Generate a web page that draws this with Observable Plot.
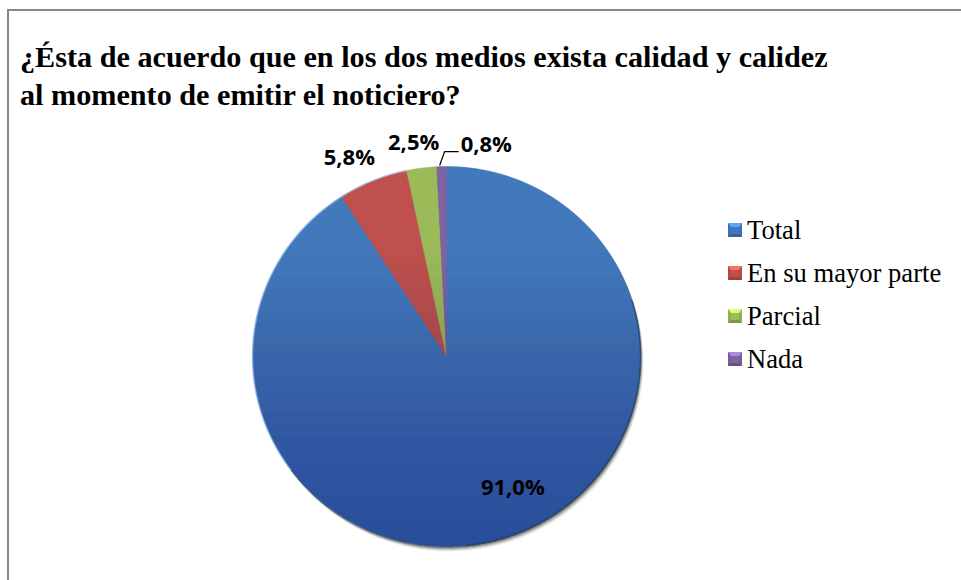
<!DOCTYPE html>
<html>
<head>
<meta charset="utf-8">
<script src="https://cdn.jsdelivr.net/npm/d3@7"></script>
<script src="https://cdn.jsdelivr.net/npm/@observablehq/plot@0.6"></script>
<style>
  body { margin: 0; background: #fff; }
  #wrap { position: relative; width: 961px; height: 580px; overflow: hidden; background: #fff; }
  #frame { position: absolute; left: 7px; top: 9px; width: 1100px; height: 1100px; border: 2px solid #878787; box-sizing: border-box; }
  #chart { position: absolute; left: 0; top: 0; }
  #title { position: absolute; left: 20px; top: 38px; font-family: "Liberation Serif", "Times New Roman", serif; font-weight: bold; font-size: 30.2px; line-height: 38px; color: #000; white-space: nowrap; }
  #legend { position: absolute; left: 728px; top: 0; font-family: "Liberation Serif", "Times New Roman", serif; font-size: 26.6px; color: #000; }
  .item { position: absolute; left: 0; height: 43px; line-height: 43px; white-space: nowrap; }
  .sw { display: inline-block; width: 8px; height: 7px; border-style: solid; border-width: 4px 3px 3px 3px; vertical-align: 2px; margin-right: 5px; }
</style>
</head>
<body>
<div id="wrap">
  <div id="frame"></div>
  <div id="chart"></div>
  <div id="title">¿Ésta de acuerdo que en los dos medios exista calidad y calidez<br>al momento de emitir el noticiero?</div>
  <div id="legend"></div>
</div>
<script>
// ---- data ----
const categories = ["Total", "En su mayor parte", "Parcial", "Nada"];
const values = [91.0, 5.8, 2.5, 0.8];
const valueLabels = ["91,0%", "5,8%", "2,5%", "0,8%"];
const colors = ["#4279bc", "#c0504d", "#9bbb59", "#8064a2"];

// ---- layout ----
const W = 961, H = 580;
const cx = 446, cy = 356, rx = 194, ry = 190;
const pxX = px => px / rx;   // pixel offset -> data units
const pxY = px => px / ry;
const labelFont = "'Open Sans', Lato, sans-serif";

const arcs = d3.pie().sort(null).value(d => d)(values);

// slice polygons (angle 0 at 12 o'clock, clockwise)
const slicePts = [];
arcs.forEach((a, i) => {
  const n = Math.max(3, Math.ceil((a.endAngle - a.startAngle) / (Math.PI / 360)));
  slicePts.push({slice: i, x: 0, y: 0});
  for (let k = 0; k <= n; k++) {
    const t = a.startAngle + (a.endAngle - a.startAngle) * k / n;
    slicePts.push({slice: i, x: Math.sin(t), y: Math.cos(t)});
  }
  slicePts.push({slice: i, x: 0, y: 0});
});
const circle = d3.range(0, 360.5, 0.5).map(d => ({x: Math.sin(d * Math.PI / 180), y: Math.cos(d * Math.PI / 180)}));

// labels
const labels = [];
let leader = [];
arcs.forEach((a, i) => {
  const m = (a.startAngle + a.endAngle) / 2;
  const sx = Math.sin(m), sy = Math.cos(m);
  if (values[i] > 50) {
    const mm = m - 10 * Math.PI / 180;
    labels.push({x: Math.sin(mm) * 0.77, y: Math.cos(mm) * 0.77, text: valueLabels[i], anchor: "middle"});
  } else if (values[i] >= 2) {
    labels.push({x: sx + pxX(62 * sx), y: sy + pxY(25 * sy), text: valueLabels[i], anchor: "middle"});
  } else {
    const p0 = {x: sx - pxX(2), y: sy + pxY(1)};
    const p1 = {x: p0.x + pxX(5), y: p0.y + pxY(14)};
    const p2 = {x: p1.x + pxX(14), y: p1.y};
    leader = [p0, p1, p2];
    labels.push({x: p2.x + pxX(2), y: p2.y + pxY(7), text: valueLabels[i], anchor: "start"});
  }
});

const shadowLayers = [{d: 1, o: 0.28}, {d: 2, o: 0.22}, {d: 3, o: 0.16}, {d: 4, o: 0.1}, {d: 5, o: 0.06}];
const shadeSteps = d3.range(0.55, -1, -0.06);   // smooth darkening towards the bottom

const marks = [
  // soft shadow (bottom-right)
  ...shadowLayers.map(s => Plot.line(circle, {x: "x", y: "y", fill: "#000", fillOpacity: s.o, stroke: "none", dx: s.d * 0.6, dy: s.d})),
  // slices
  Plot.line(slicePts, {x: "x", y: "y", z: "slice", fill: d => colors[d.slice], stroke: d => colors[d.slice], strokeWidth: 0.5}),
  // lighting
  ...shadeSteps.map(t => Plot.line(circle.filter(d => d.y < t), {x: "x", y: "y", fill: "#0a1e3c", fillOpacity: 0.011, stroke: "none"})),
  // rim
  Plot.line(circle.filter(d => d.x < -0.2 && d.y > -0.6), {x: "x", y: "y", stroke: "#9cc0ea", strokeOpacity: 0.7, strokeWidth: 1.5}),
  Plot.line(circle.filter(d => d.x > 0.1 && d.y < 0.3), {x: "x", y: "y", stroke: "#1b355c", strokeOpacity: 0.6, strokeWidth: 1.5}),
  // leader and labels
  Plot.line(leader, {x: "x", y: "y", stroke: "#000", strokeWidth: 1.2, strokeLinecap: "butt", strokeLinejoin: "miter"}),
  Plot.text(labels.filter(d => d.anchor === "middle"), {x: "x", y: "y", text: "text", textAnchor: "middle", fontSize: 22, fontWeight: "bold", fontFamily: labelFont, fill: "#000"}),
  Plot.text(labels.filter(d => d.anchor === "start"), {x: "x", y: "y", text: "text", textAnchor: "start", fontSize: 22, fontWeight: "bold", fontFamily: labelFont, fill: "#000"})
];

const svg = Plot.plot({
  width: W, height: H, margin: 0,
  x: {domain: [-1, 1], range: [cx - rx, cx + rx], axis: null},
  y: {domain: [-1, 1], range: [cy + ry, cy - ry], axis: null},
  color: {type: "identity"},
  style: {background: "transparent", overflow: "visible"},
  marks
});

document.getElementById("chart").appendChild(svg);

// legend
const legend = d3.select("#legend");
const firstBaseline = 239.5, step = 43;
categories.forEach((name, i) => {
  const c = d3.color(colors[i]);
  const item = legend.append("div").attr("class", "item").style("top", (firstBaseline - 30.5 + i * step) + "px");
  item.append("span").attr("class", "sw")
    .style("background", c.formatHex())
    .style("border-top-color", c.brighter(0.9).formatHex())
    .style("border-left-color", c.darker(0.2).formatHex())
    .style("border-right-color", c.darker(0.2).formatHex())
    .style("border-bottom-color", c.darker(0.6).formatHex());
  item.append("span").text(name);
});
</script>
</body>
</html>
